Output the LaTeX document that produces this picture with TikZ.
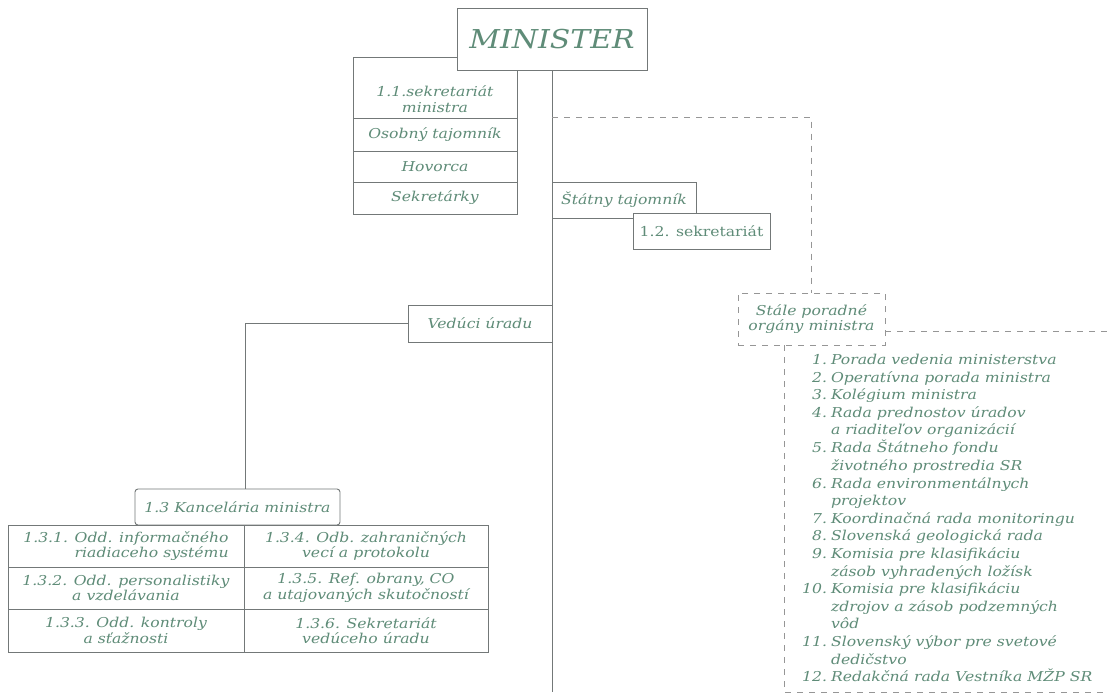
\documentclass[tikz,border=0pt]{standalone}
\usepackage{fontspec}
\setmainfont{DejaVu Serif}
\newfontfamily\widefont[FakeStretch=1.15]{DejaVu Serif}
\definecolor{textc}{RGB}{95,140,120}
\definecolor{linec}{RGB}{115,120,120}
\definecolor{dashc}{RGB}{150,150,150}
\newcommand\mybody{\widefont\itshape\fontsize{13.6}{15.5}\selectfont}
\begin{document}
\begin{tikzpicture}[x=1pt,y=-1pt,
  box/.style={draw=linec, line width=0.9pt, fill=white, inner sep=0pt, align=center, text=textc, font=\mybody},
  txt/.style={inner sep=0pt, align=center, text=textc, font=\mybody},
  conn/.style={draw=linec, line width=0.9pt},
  dconn/.style={draw=dashc, line width=0.9pt, dash pattern=on 6pt off 6pt}]
\useasboundingbox[fill=white] (0,0) rectangle (1107,699);

% left stack under the minister
\node[box, minimum width=164, minimum height=61] (s1box) at (435,87.5) {};
\node[box, minimum width=164, minimum height=33] (s2) at (435,134.5) {Osobný tajomník};
\node[box, minimum width=164, minimum height=31] (s3) at (435,166.5) {Hovorca};
\node[box, minimum width=164, minimum height=32] (s4) at (435,198) {Sekretárky};
\node[box, minimum width=190, minimum height=62, font=\widefont\itshape\fontsize{26}{30}\selectfont] (min) at (552,39) {MINISTER};
\node[txt] (s1) at (435,99) {1.1.sekretariát\\ministra};

% main line
\coordinate (bot) at (552,692);
\draw[conn] (min.south) -- (bot);

% dashed link to advisory bodies
\coordinate (d1) at (552,117);
\node[box, draw=dashc, dash pattern=on 6pt off 6pt, minimum width=147, minimum height=52] (stale) at (811.5,319) {Stále poradné\\orgány ministra};
\draw[dconn] (d1) -- (stale.north |- d1) -- (stale.north);
\coordinate (r1) at (1107,331);
\draw[dconn] (stale.east |- r1) -- (r1);
\coordinate (lb) at (784,692);
\coordinate (rb) at (1107,692);
\draw[dconn] (stale.south -| lb) -- (lb) -- (rb);

% state secretary
\node[box, minimum width=144, minimum height=36] (st) at (624,200) {Štátny tajomník};
\node[box, minimum width=137, minimum height=36, font=\widefont\fontsize{13.6}{15.5}\selectfont] (sek) at (701.5,231) {1.2. sekretariát};

% head of office
\node[box, minimum width=144, minimum height=37] (ved) at (480,323.5) {Vedúci úradu};
\coordinate (kt) at (245,489);
\draw[conn] (ved.west) -- (kt |- ved.west) -- (kt);
\node[box, rounded corners=3pt, minimum width=205, minimum height=36] (kan) at (237.5,507) {1.3 Kancelária ministra};

% table
\node[box, minimum width=236, minimum height=42, align=right] (t1) at (126,546) {1.3.1. Odd. informačného\\riadiaceho systému};
\node[box, minimum width=236, minimum height=42] (t2) at (126,588) {1.3.2. Odd. personalistiky\\a vzdelávania};
\node[box, minimum width=236, minimum height=43] (t3) at (126,630.5) {1.3.3. Odd. kontroly\\a sťažnosti};
\node[box, minimum width=244, minimum height=42] (t4) at (366,546) {1.3.4. Odb. zahraničných\\vecí a protokolu};
\node[box, minimum width=244, minimum height=42] (t5) at (366,588) {1.3.5. Ref. obrany, CO\\a utajovaných skutočností};
\node[box, minimum width=244, minimum height=43] (t6) at (366,630.5) {1.3.6. Sekretariát\\vedúceho úradu};

% list of advisory bodies
\node[anchor=north west, inner sep=0pt, text=textc, font=\widefont\itshape\fontsize{13.6}{17.6}\selectfont] (list) at (802,352)
{\begin{tabular}{@{}r@{\hspace{4pt}}l@{}}
1. & Porada vedenia ministerstva\\
2. & Operatívna porada ministra\\
3. & Kolégium ministra\\
4. & Rada prednostov úradov\\
   & a riaditeľov organizácií\\
5. & Rada Štátneho fondu\\
   & životného prostredia SR\\
6. & Rada environmentálnych\\
   & projektov\\
7. & Koordinačná rada monitoringu\\
8. & Slovenská geologická rada\\
9. & Komisia pre klasifikáciu\\
   & zásob vyhradených ložísk\\
10. & Komisia pre klasifikáciu\\
   & zdrojov a zásob podzemných\\
   & vôd\\
11. & Slovenský výbor pre svetové\\
   & dedičstvo\\
12. & Redakčná rada Vestníka MŽP SR
\end{tabular}};
\end{tikzpicture}
\end{document}
